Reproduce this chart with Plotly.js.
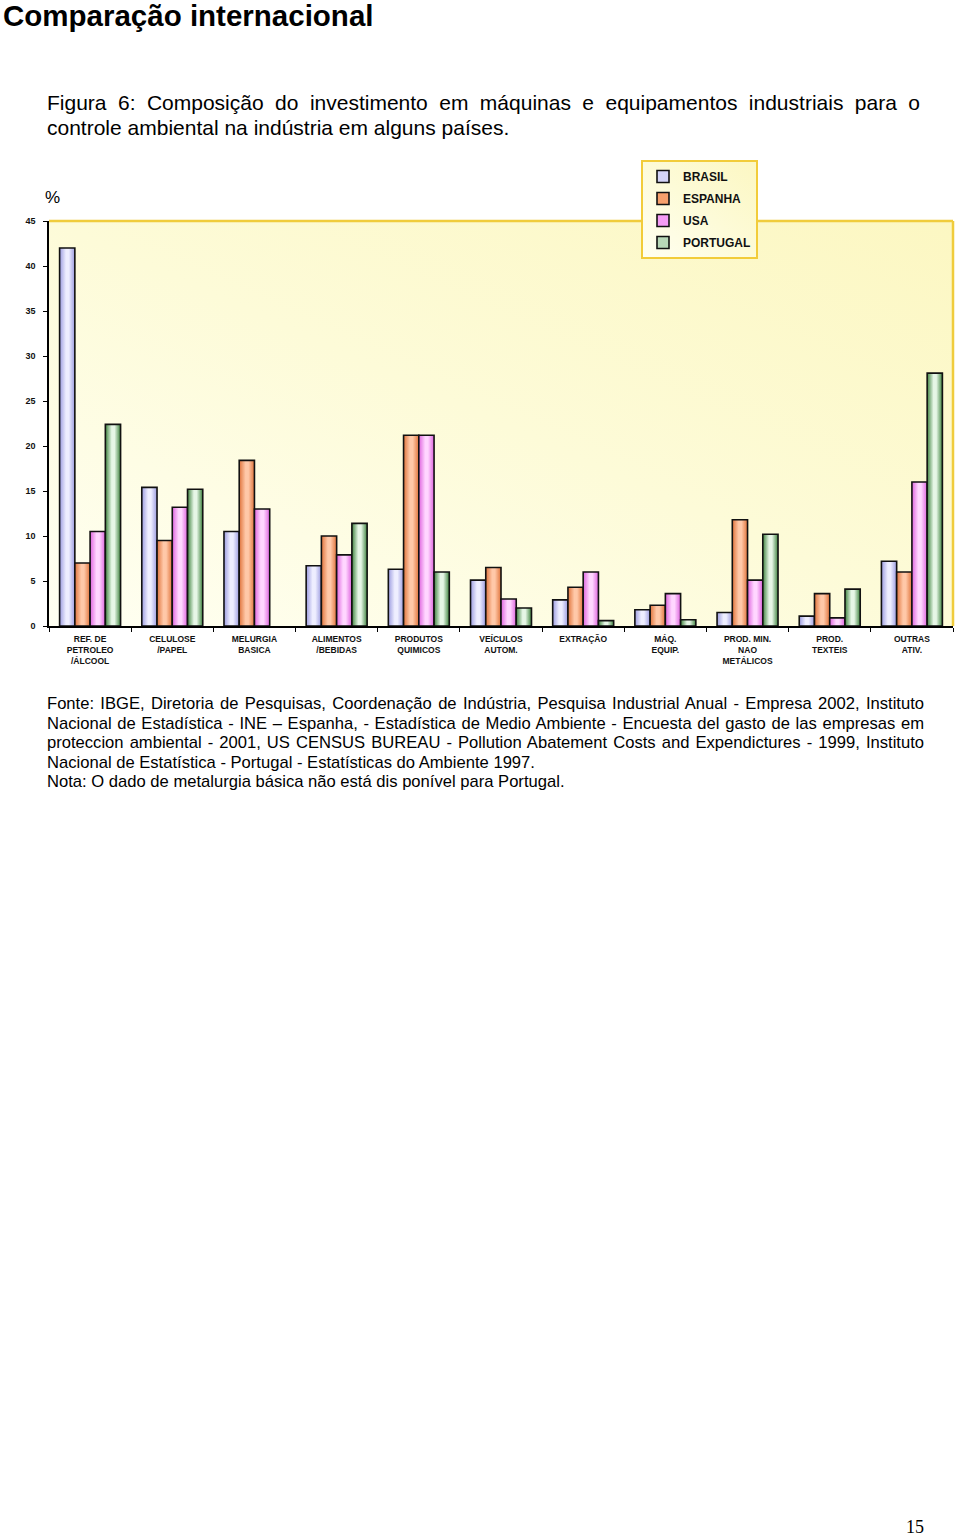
<!DOCTYPE html>
<html>
<head>
<meta charset="utf-8">
<script src="https://cdn.plot.ly/plotly-3.0.1.min.js"></script>
<style>
  html, body { margin: 0; padding: 0; background: #fff; }
  #page { position: relative; width: 960px; height: 1536px; overflow: hidden; }
  #chart { position: absolute; left: 0; top: 0; width: 960px; height: 1536px; }
  .txt { position: absolute; font-family: "Liberation Sans", Arial, sans-serif; color: #000; white-space: nowrap; }
  .just { text-align: justify; text-align-last: justify; }
</style>
</head>
<body>
<div id="page">
  <div id="chart"></div>
  <div class="txt" style="left:3px; top:0px; font-size:29.5px; font-weight:bold; line-height:31px;">Comparação internacional</div>
  <div class="txt just" style="left:47px; top:90px; width:873px; font-size:21px; line-height:25px;">Figura 6: Composição do investimento em máquinas e equipamentos industriais para o</div>
  <div class="txt" style="left:47px; top:115px; font-size:21px; line-height:25px;">controle ambiental na indústria em alguns países.</div>

  <div class="txt just" style="left:47px; top:694px; width:877px; font-size:16.6px; line-height:19.5px;">Fonte: IBGE, Diretoria de Pesquisas, Coordenação de Indústria, Pesquisa Industrial Anual - Empresa 2002, Instituto</div>
  <div class="txt just" style="left:47px; top:713.5px; width:877px; font-size:16.6px; line-height:19.5px;">Nacional de Estadística - INE – Espanha, - Estadística de Medio Ambiente - Encuesta del gasto de las empresas em</div>
  <div class="txt just" style="left:47px; top:733px; width:877px; font-size:16.6px; line-height:19.5px;">proteccion ambiental - 2001, US CENSUS BUREAU - Pollution Abatement Costs and Expendictures - 1999, Instituto</div>
  <div class="txt" style="left:47px; top:752.5px; font-size:16.6px; line-height:19.5px;">Nacional de Estatística - Portugal - Estatísticas do Ambiente 1997.</div>
  <div class="txt" style="left:47px; top:772px; font-size:16.6px; line-height:19.5px;">Nota: O dado de metalurgia básica não está dis ponível para Portugal.</div>

  <div class="txt" style="left:906px; top:1519px; font-family:'Liberation Serif', 'Times New Roman', serif; font-size:18px; line-height:16px;">15</div>
</div>
<script>
// ---- data ----
const categories = [
  "REF. DE<br>PETROLEO<br>/ÁLCOOL",
  "CELULOSE<br>/PAPEL",
  "MELURGIA<br>BASICA",
  "ALIMENTOS<br>/BEBIDAS",
  "PRODUTOS<br>QUIMICOS",
  "VEÍCULOS<br>AUTOM.",
  "EXTRAÇÃO",
  "MÁQ.<br>EQUIP.",
  "PROD. MIN.<br>NAO<br>METÁLICOS",
  "PROD.<br>TEXTEIS",
  "OUTRAS<br>ATIV."
];
const seriesNames = ["BRASIL", "ESPANHA", "USA", "PORTUGAL"];
const brasil   = [42.0, 15.4, 10.5, 6.7, 6.3, 5.1, 2.9, 1.8, 1.5, 1.1, 7.2];
const espanha  = [7.0, 9.5, 18.4, 10.0, 21.2, 6.5, 4.3, 2.3, 11.8, 3.6, 6.0];
const usa      = [10.5, 13.2, 13.0, 7.9, 21.2, 3.0, 6.0, 3.6, 5.1, 0.9, 16.0];
const portugal = [22.4, 15.2, null, 11.4, 6.0, 2.0, 0.6, 0.7, 10.2, 4.1, 28.1];
const yTicks = [0, 5, 10, 15, 20, 25, 30, 35, 40, 45];

// ---- styles ----
const fills = ["#d4d4f8", "#f7a06c", "#f59cf5", "#b8d8b8"];
const grads = [
  ["#9c9ce0", "#eeeeff"],
  ["#e0743c", "#ffc8a8"],
  ["#de64de", "#ffd6ff"],
  ["#3f833f", "#e6f6e6"]
];
const seriesValues = [brasil, espanha, usa, portugal];

const W = 960, H = 1536;
const plotL = 49, plotR = 953, plotT = 221, plotB = 626;

const traces = seriesNames.map((n, i) => ({
  type: "bar",
  name: n,
  x: categories,
  y: seriesValues[i],
  legendgroup: "g" + i,
  marker: { color: fills[i], line: { color: "#111", width: 1.6 } },
  hoverinfo: "x+y+name"
}));

const layout = {
  width: W, height: H,
  margin: { l: 0, r: 0, t: 0, b: 0 },
  paper_bgcolor: "#ffffff",
  plot_bgcolor: "#fdfbd6",
  barmode: "group",
  bargap: 0.258,
  bargroupgap: 0,
  font: { family: "Liberation Sans, Arial, sans-serif", color: "#000" },
  xaxis: {
    domain: [plotL / W, plotR / W],
    type: "category",
    showline: true, linecolor: "#000", linewidth: 1.5,
    ticks: "outside", tickson: "boundaries", ticklen: 4, tickcolor: "#000", tickwidth: 1.2,
    tickfont: { size: 8.5, family: "Liberation Sans, Arial, sans-serif", weight: "bold", color: "#111" },
    tickangle: 0,
    showgrid: false, zeroline: false, fixedrange: true,
    ticklabelstandoff: 4
  },
  yaxis: {
    domain: [1 - plotB / H, 1 - plotT / H],
    range: [0, 45],
    tickmode: "array", tickvals: yTicks, ticktext: yTicks.map(String),
    showline: true, linecolor: "#000", linewidth: 1.5,
    ticks: "outside", ticklen: 4, tickcolor: "#000", tickwidth: 1.2,
    tickfont: { size: 9, family: "Liberation Sans, Arial, sans-serif", weight: "bold", color: "#111" },
    showgrid: false, zeroline: false, fixedrange: true,
    ticklabelstandoff: 6
  },
  showlegend: true,
  legend: {
    x: 641 / W, y: 1 - 160 / H, xanchor: "left", yanchor: "top",
    bgcolor: "#ffffff", bordercolor: "#f2cc3a", borderwidth: 2,
    font: { size: 12, family: "Liberation Sans, Arial, sans-serif", weight: "bold", color: "#111" },
    tracegroupgap: 3,
    traceorder: "grouped",
    entrywidth: 90, entrywidthmode: "pixels",
    itemclick: false, itemdoubleclick: false
  },
  shapes: [
    { type: "line", xref: "paper", yref: "paper", layer: "above",
      x0: plotL / W, x1: plotR / W, y0: 1 - plotT / H, y1: 1 - plotT / H,
      line: { color: "#f0cc3c", width: 2.5 } },
    { type: "line", xref: "paper", yref: "paper", layer: "above",
      x0: plotR / W, x1: plotR / W, y0: 1 - plotT / H, y1: 1 - plotB / H,
      line: { color: "#f0cc3c", width: 2.5 } }
  ],
  annotations: [
    { text: "%", xref: "paper", yref: "paper", x: 43 / W, y: 1 - 197 / H,
      xanchor: "left", yanchor: "middle", showarrow: false,
      font: { size: 17, family: "Liberation Sans, Arial, sans-serif", color: "#000" } }
  ]
};

const NS = "http://www.w3.org/2000/svg";
function makeGrad(defs, id, stops, x1, y1, x2, y2) {
  if (defs.querySelector("#" + id)) return;
  const lg = document.createElementNS(NS, "linearGradient");
  lg.setAttribute("id", id);
  lg.setAttribute("x1", x1); lg.setAttribute("y1", y1);
  lg.setAttribute("x2", x2); lg.setAttribute("y2", y2);
  stops.forEach(([o, c]) => {
    const s = document.createElementNS(NS, "stop");
    s.setAttribute("offset", String(o)); s.setAttribute("stop-color", c);
    lg.appendChild(s);
  });
  defs.appendChild(lg);
}

function applyGradients(gd) {
  const svg = gd.querySelector("svg.main-svg");
  if (!svg) return;
  let defs = svg.querySelector("defs");
  if (!defs) { defs = document.createElementNS(NS, "defs"); svg.insertBefore(defs, svg.firstChild); }
  grads.forEach((g, i) => {
    makeGrad(defs, "bargrad" + i, [[0, g[0]], [0.42, g[1]], [0.6, g[1]], [1, g[0]]], "0", "0", "1", "0");
  });
  makeGrad(defs, "bggrad", [[0, "#fffff2"], [0.5, "#fdfbd8"], [1, "#fcf7c2"]], "0", "1", "1", "0");
  const traceGroups = gd.querySelectorAll(".barlayer .trace");
  traceGroups.forEach((tg, i) => {
    tg.querySelectorAll(".point path, path").forEach(p => {
      p.style.removeProperty("fill");
      p.setAttribute("fill", "url(#bargrad" + (i % 4) + ")");
    });
  });
  gd.querySelectorAll("rect.bg").forEach(r => {
    r.style.removeProperty("fill");
    r.setAttribute("fill", "url(#bggrad)");
  });
}

const gd = document.getElementById("chart");
Plotly.newPlot(gd, traces, layout, { displayModeBar: false }).then(() => {
  applyGradients(gd);
  gd.on("plotly_afterplot", () => applyGradients(gd));
});
</script>
</body>
</html>
